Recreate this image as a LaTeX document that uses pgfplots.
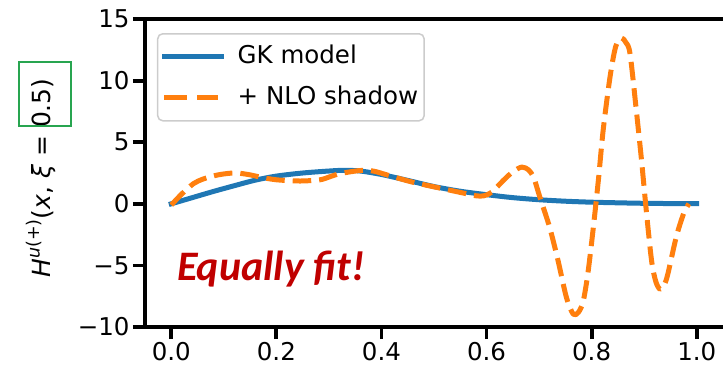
\documentclass[border=0pt]{standalone}
\usepackage{pgfplots}
\pgfplotsset{compat=1.18}
\usepackage{fontspec}
\setmainfont{DejaVu Sans}
\newfontfamily\carlito{Carlito}
\definecolor{mplblue}{HTML}{1F77B4}
\definecolor{mplorange}{HTML}{FF7F0E}
\definecolor{fitred}{RGB}{192,0,0}
\definecolor{boxgreen}{RGB}{40,165,80}
\definecolor{legedge}{RGB}{204,204,204}
\begin{document}
\begin{tikzpicture}
\useasboundingbox (-145pt,-51pt) rectangle (578pt,327pt);
\begin{axis}[
  scale only axis, width=582pt, height=308pt,
  xmin=-0.05, xmax=1.0576, ymin=-10, ymax=15,
  axis line style={line width=3.8pt},
  tick style={line width=3.8pt, black},
  major tick length=12pt, tick align=outside,
  xtick pos=bottom, ytick pos=left,
  xtick={0,0.2,0.4,0.6,0.8,1.0}, xticklabels={0.0,0.2,0.4,0.6,0.8,1.0},
  ytick={-10,-5,0,5,10,15}, yticklabels={−10,−5,0,5,10,15},
  tick label style={font=\fontsize{24.5}{24.5}\selectfont},
  every axis y label/.style={at={(axis description cs:-0.1632,0.4838)}, rotate=90, anchor=base},
  ylabel={\fontsize{25}{25}\selectfont\textit{H}\raisebox{0.42em}{\fontsize{17.5}{17.5}\selectfont\textit{u}(+)}(\textit{x}, \textit{ξ} = 0.5)},
  legend style={font=\fontsize{24.5}{24.5}\selectfont, draw=legedge, line width=1.5pt, rounded corners=5pt,
    at={(axis description cs:0.0206,0.9545)}, anchor=north west,
    inner xsep=4pt, inner ysep=10pt, row sep=15pt,
    nodes={inner sep=2pt, text height=18pt, text depth=4pt}},
  legend cell align=left,
  /tikz/every odd column/.append style={column sep=12pt},
]
\addplot[mplblue, line width=5pt, line cap=rect, line join=round, smooth, tension=0.5,
  legend image code/.code={\draw[mplblue, line width=5pt] (0pt,0pt) -- (57pt,0pt);}]
coordinates {
(0,0) (0.04,0.5) (0.08,1.0) (0.12,1.47) (0.16,1.92) (0.2,2.25) (0.25,2.5) (0.3,2.66)
(0.33,2.72) (0.36,2.66) (0.4,2.38) (0.45,1.9) (0.5,1.4) (0.55,1.02) (0.6,0.74) (0.65,0.5)
(0.7,0.33) (0.75,0.21) (0.8,0.13) (0.85,0.08) (0.9,0.04) (0.95,0.02) (1.0,0.01)
};
\addlegendentry{GK model}
\addplot[mplorange, line width=5pt, dash pattern=on 18.5pt off 8pt, line join=round, smooth, tension=0.5,
  legend image code/.code={\draw[mplorange, line width=5pt, dash pattern=on 23pt off 10pt on 21pt off 5pt] (0pt,0pt) -- (54pt,0pt);}]
coordinates {
(0,-0.1) (0.02,0.8) (0.042,1.63) (0.06,2.0) (0.084,2.3) (0.105,2.45) (0.125,2.5) (0.15,2.35)
(0.169,2.17) (0.2,1.95) (0.245,1.85) (0.283,1.95) (0.302,2.2) (0.321,2.45) (0.359,2.7)
(0.384,2.66) (0.41,2.35) (0.435,2.04) (0.46,1.75) (0.492,1.45) (0.525,1.15) (0.556,0.87)
(0.58,0.65) (0.595,0.65) (0.61,0.95) (0.632,1.9) (0.65,2.6) (0.667,2.98) (0.68,2.75)
(0.69,2.1) (0.701,0.6) (0.72,-1.9) (0.736,-4.6) (0.752,-7.6) (0.765,-8.96) (0.775,-8.8)
(0.784,-7.9) (0.793,-5.6) (0.803,-2.0) (0.813,2.0) (0.822,6.0) (0.835,10.3) (0.846,12.8)
(0.857,13.45) (0.865,13.1) (0.873,12.2) (0.885,7.6) (0.895,3.5) (0.904,-0.55) (0.914,-4.6)
(0.922,-6.3) (0.93,-6.93) (0.938,-6.6) (0.945,-5.7) (0.961,-2.7) (0.975,-0.8) (0.985,0.0)
};
\addlegendentry{+ NLO shadow}
\node[anchor=base west, inner sep=0pt, text=fitred] at (axis cs:0.011,-6.25)
  {\carlito\bfseries\itshape\fontsize{42}{42}\selectfont Equally fit!};
\end{axis}
\draw[boxgreen, line width=1.5pt] (-126pt,201pt) rectangle (-74pt,265pt);
\end{tikzpicture}
\end{document}
